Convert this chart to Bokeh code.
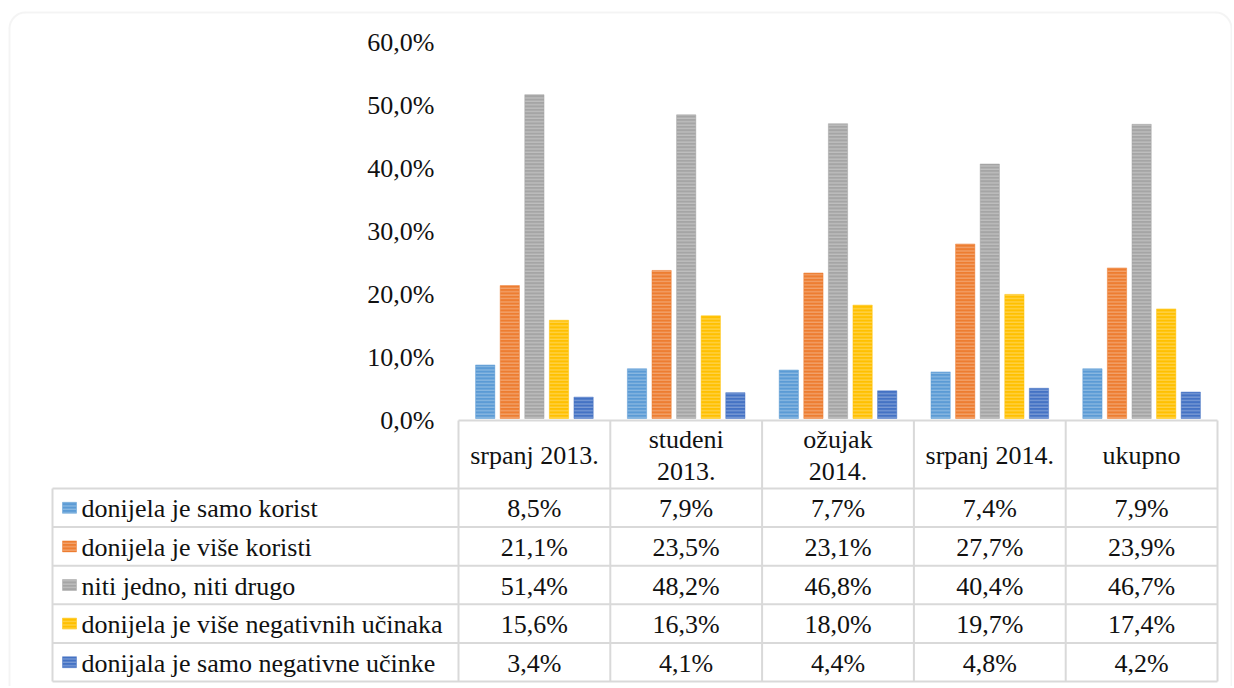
import numpy as np
from bokeh.plotting import figure
from bokeh.models import Range1d, BoxAnnotation, ColumnDataSource
from bokeh.core.properties import value
from bokeh.embed import file_html
from bokeh.resources import INLINE

# ---------------- data ----------------
categories = ["srpanj 2013.", "studeni\n2013.", "ožujak\n2014.", "srpanj 2014.", "ukupno"]
series_names = [
    "donijela je samo korist",
    "donijela je više koristi",
    "niti jedno, niti drugo",
    "donijela je više negativnih učinaka",
    "donijala je samo negativne učinke",
]
samo_korist = [8.5, 7.9, 7.7, 7.4, 7.9]
vise_koristi = [21.1, 23.5, 23.1, 27.7, 23.9]
niti_jedno = [51.4, 48.2, 46.8, 40.4, 46.7]
vise_negativnih = [15.6, 16.3, 18.0, 19.7, 17.4]
samo_negativne = [3.4, 4.1, 4.4, 4.8, 4.2]
y_ticks = [0, 10, 20, 30, 40, 50, 60]
colors = ["#5B9BD5", "#ED7D31", "#A5A5A5", "#FFC000", "#4472C4"]

all_series = [samo_korist, vise_koristi, niti_jedno, vise_negativnih, samo_negativne]

def pct(v):
    return f"{v:.1f}".replace(".", ",") + "%"

# ---------------- layout ----------------
W, H = 1232, 686
COL0 = 458.0          # px of first category column
COLW = 151.8          # column width px
ZERO = 418.0          # px of 0 %
K = 6.3               # px per percent
GRID = "#d9d9d9"
FONT = value("Times New Roman")
FS = "26px"
TXT = "#111111"
TEXT_STYLE = dict(text_font=FONT, text_font_size=FS, text_color=TXT,
                  text_line_height=1.1, text_baseline="middle")
HATCH = dict(hatch_pattern="horizontal_line", hatch_color="white",
             hatch_alpha=0.35, hatch_scale=3.4, hatch_weight=1.1)

n = len(categories)
m = len(series_names)
p = figure(width=W, height=H,
           x_range=Range1d(-COL0 / COLW, (W - COL0) / COLW),
           y_range=Range1d(-(H - ZERO) / K, ZERO / K),
           output_backend="svg", toolbar_location=None,
           x_axis_location=None, y_axis_location=None, min_border=0)
p.outline_line_color = None
p.xgrid.visible = False
p.ygrid.visible = False
p.background_fill_color = "white"
p.border_fill_color = "white"
p.extra_x_ranges = {"px": Range1d(0, W)}
p.extra_y_ranges = {"px": Range1d(H, 0)}

# outer rounded frame
p.add_layout(BoxAnnotation(left=9, right=1231, top=12, bottom=H + 40,
                           x_range_name="px", y_range_name="px",
                           fill_alpha=0, line_color=GRID, line_width=2,
                           border_radius=16))

# table geometry
T_TOP = 420.0
HDR_BOT = 488.0
ROW_H = (681.0 - HDR_BOT) / m
LEFT = 52.0
col_edges = [COL0 + i * COLW for i in range(n + 1)]
row_lines = [HDR_BOT + r * ROW_H for r in range(m + 1)]
col_centers = [COL0 + (i + 0.5) * COLW for i in range(n)]
row_centers = [HDR_BOT + (r + 0.5) * ROW_H for r in range(m)]

# table lines
p.segment(x0=[col_edges[0]], y0=[T_TOP], x1=[col_edges[-1]], y1=[T_TOP],
          x_range_name="px", y_range_name="px", line_color=GRID, line_width=2)
p.segment(x0=[LEFT] * len(row_lines), y0=row_lines,
          x1=[col_edges[-1]] * len(row_lines), y1=row_lines,
          x_range_name="px", y_range_name="px", line_color=GRID, line_width=2)
p.segment(x0=col_edges, y0=[T_TOP] * len(col_edges), x1=col_edges,
          y1=[row_lines[-1]] * len(col_edges),
          x_range_name="px", y_range_name="px", line_color=GRID, line_width=2)
p.segment(x0=[LEFT], y0=[HDR_BOT], x1=[LEFT], y1=[row_lines[-1]],
          x_range_name="px", y_range_name="px", line_color=GRID, line_width=2)

# bars
pitch, bw = 0.162, 0.127
for s, (vals, col) in enumerate(zip(all_series, colors)):
    xs = np.arange(n) + 0.5 + (s - 2) * pitch
    p.vbar(x=xs, top=vals, bottom=0, width=bw,
           fill_color=col, line_color=col, line_alpha=0.45, line_width=1, **HATCH)

# legend keys in table
p.rect(x=[69] * m, y=row_centers, width=14, height=11,
       x_range_name="px", y_range_name="px",
       fill_color=colors, line_color=colors, line_alpha=0.45, **HATCH)

# y tick labels
p.text(x=[434] * len(y_ticks), y=y_ticks, text=[pct(t) for t in y_ticks],
       x_range_name="px", text_align="right", y_offset=2, **TEXT_STYLE)

# all table texts in one renderer: header, row labels, values
tx, ty, tt, ta = [], [], [], []
for i, c in enumerate(categories):
    tx.append(col_centers[i]); ty.append((T_TOP + HDR_BOT) / 2); tt.append(c); ta.append("center")
for r, name in enumerate(series_names):
    tx.append(81); ty.append(row_centers[r]); tt.append(name); ta.append("left")
for r, vals in enumerate(all_series):
    for i, v in enumerate(vals):
        tx.append(col_centers[i]); ty.append(row_centers[r]); tt.append(pct(v)); ta.append("center")
tsrc = ColumnDataSource(dict(x=tx, y=ty, text=tt, align=ta))
p.text(x="x", y="y", text="text", text_align="align", source=tsrc,
       x_range_name="px", y_range_name="px", y_offset=1, **TEXT_STYLE)

open("out.html", "w").write(file_html(p, INLINE))
